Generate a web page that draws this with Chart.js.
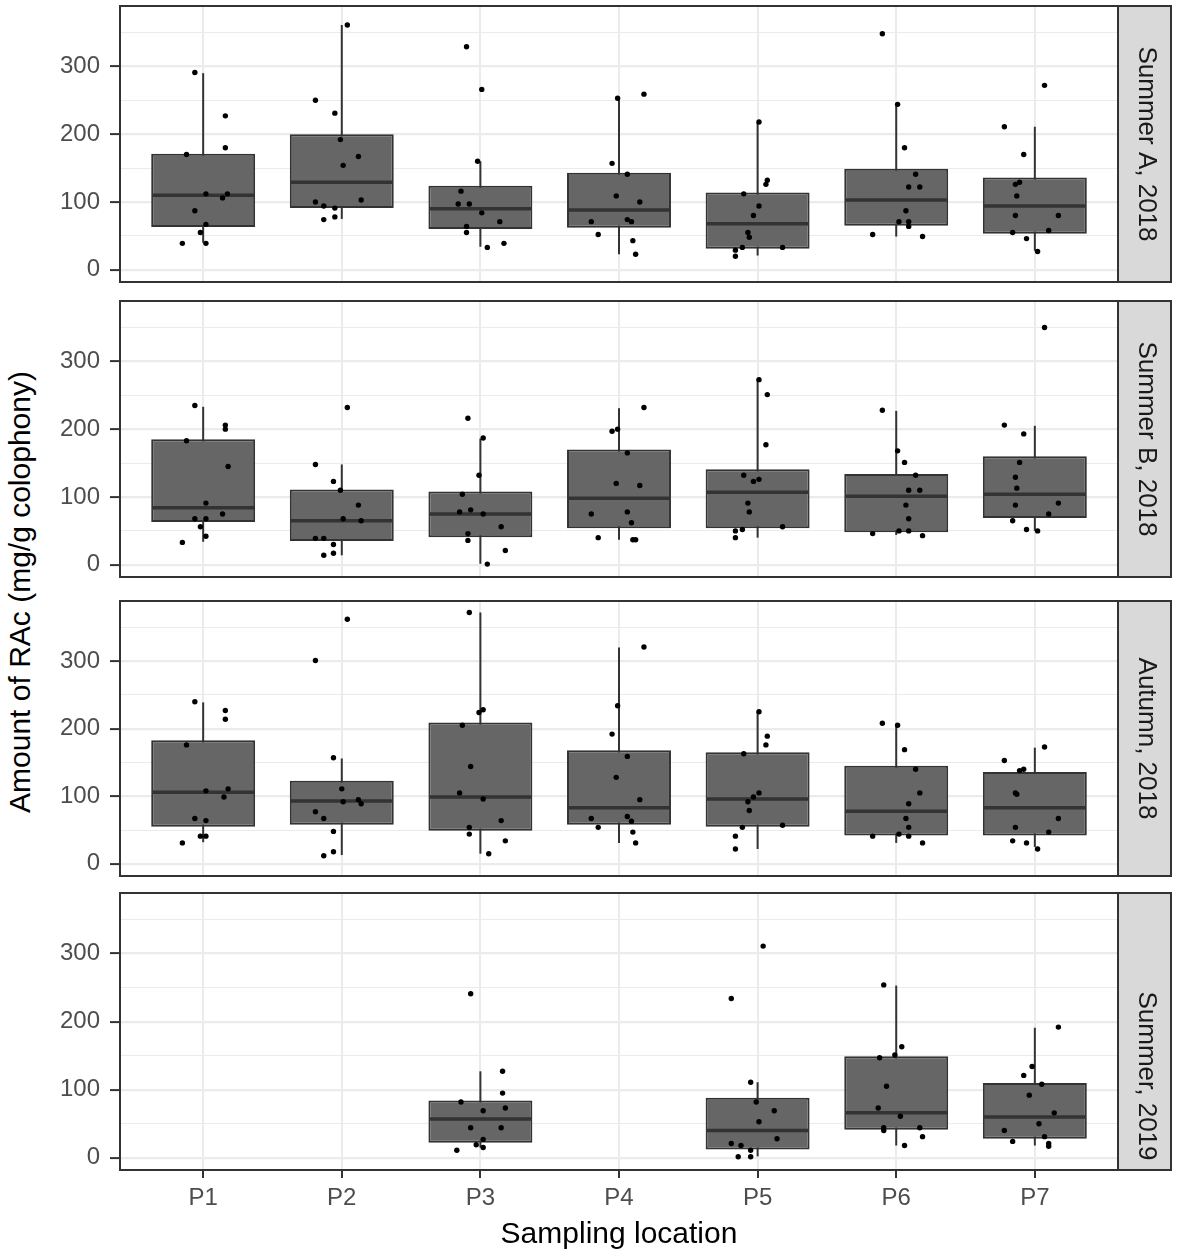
<!DOCTYPE html>
<html>
<head>
<meta charset="utf-8">
<script src="https://cdn.jsdelivr.net/npm/chart.js@4.4.0/dist/chart.umd.min.js"></script>
<style>
  body { margin: 0; background: #fff; }
  #wrap { position: relative; width: 1181px; height: 1260px; }
  canvas { position: absolute; left: 0; }
  #ytitle {
    position: absolute; left: 20px; top: 592px;
    transform: translate(-50%, -50%) rotate(-90deg);
    font: 30px "Liberation Sans", Arial, sans-serif;
    white-space: nowrap; color: #000;
  }
</style>
</head>
<body>
<div id="wrap">
  <div id="ytitle">Amount of RAc (mg/g colophony)</div>
  <canvas id="p0" width="1181" height="284" style="top:2px"></canvas>
  <canvas id="p1" width="1181" height="284" style="top:297px"></canvas>
  <canvas id="p2" width="1181" height="283" style="top:597px"></canvas>
  <canvas id="p3" width="1181" height="371" style="top:889px"></canvas>
</div>
<script>
const locations = ['P1', 'P2', 'P3', 'P4', 'P5', 'P6', 'P7'];
const seasons = ['Summer A, 2018', 'Summer B, 2018', 'Autumn, 2018', 'Summer, 2019'];
const yTicks = [0, 50, 100, 150, 200, 250, 300, 350];

// box stats per location: [lower whisker, q1, median, q3, upper whisker]
const boxSummerA = [
  [40, 63, 110, 171, 290],
  [75, 91, 129, 200, 361],
  [34, 60, 90, 124, 160],
  [23, 62, 88, 143, 253],
  [21, 31, 68, 114, 218],
  [49, 65, 103, 149, 244],
  [28, 53, 94, 136, 211]
];
const boxSummerB = [
  [34, 63, 84, 185, 233],
  [14, 35, 65, 111, 148],
  [1.5, 40.5, 75, 108, 186],
  [37, 54, 98, 170, 231],
  [40, 54, 107, 141, 273],
  [44, 48, 101, 134, 227],
  [50, 69, 104, 160, 205]
];
const boxAutumn = [
  [32, 55, 106, 183, 239],
  [13, 58, 93, 123, 156],
  [15, 49, 99, 209, 372],
  [31, 58, 83, 168, 320],
  [22, 55, 96, 165, 225],
  [31, 42, 78, 145, 205],
  [25, 42, 83, 136, 172]
];
const boxSummer19 = [
  null,
  null,
  [15, 22, 57, 84, 127],
  null,
  [2, 12, 40, 88, 111],
  [18, 41, 66, 149, 253],
  [18, 28, 60, 110, 191]
];

// jittered samples [x position, value]
const ptsSummerA = [
  [0.94, 291], [1.16, 227], [1.16, 180], [0.88, 170], [1.02, 112], [1.175, 112], [1.14, 106], [0.94, 87], [1.02, 67], [0.98, 55], [0.85, 39], [1.02, 39],
  [2.04, 361], [1.81, 250], [1.95, 231], [1.99, 192], [2.01, 154], [2.12, 167], [1.81, 100], [2.14, 103], [1.87, 94], [1.95, 91], [1.87, 74], [1.95, 78],
  [2.90, 329], [3.01, 266], [2.98, 160], [2.86, 116], [2.84, 97], [2.92, 97], [3.01, 84], [3.14, 71], [2.90, 64], [2.90, 55], [3.05, 33], [3.17, 39],
  [4.18, 259], [3.99, 253], [3.95, 157], [4.06, 141], [3.98, 109], [4.15, 100], [3.80, 71], [4.06, 74], [4.09, 71], [3.85, 52], [4.10, 43], [4.12, 23],
  [5.01, 218], [5.07, 132], [5.06, 126], [4.90, 112], [5.01, 94], [4.97, 80], [4.93, 55], [4.94, 48], [4.89, 33], [4.84, 29], [5.18, 33], [4.84, 20],
  [5.90, 348], [6.01, 244], [6.06, 180], [6.14, 141], [6.09, 122], [6.17, 122], [6.07, 87], [6.02, 71], [6.09, 71], [6.09, 64], [5.83, 52], [6.19, 49],
  [7.07, 272], [6.78, 211], [6.92, 170], [6.89, 129], [6.86, 126], [6.87, 109], [6.86, 80], [7.17, 80], [6.84, 55], [7.10, 58], [6.94, 46], [7.02, 27]
];
const ptsSummerB = [
  [0.94, 235], [0.88, 183], [1.16, 206], [1.16, 200], [1.18, 145], [1.02, 91], [1.14, 75], [0.94, 68], [1.02, 68], [0.98, 56], [1.02, 42], [0.85, 33],
  [2.04, 232], [1.81, 148], [1.94, 123], [1.99, 110], [2.12, 88], [2.01, 68], [2.14, 65], [1.81, 39], [1.87, 39], [1.94, 30], [1.94, 17], [1.87, 14],
  [2.91, 216], [3.02, 187], [2.99, 132], [2.87, 104], [2.85, 78], [2.93, 81], [3.02, 75], [3.15, 56], [2.91, 46], [2.91, 36], [3.18, 21], [3.05, 1],
  [4.18, 232], [3.99, 200], [3.95, 197], [4.06, 165], [3.98, 120], [4.15, 117], [3.80, 75], [4.06, 78], [4.09, 62], [3.85, 40], [4.10, 37], [4.12, 37],
  [5.01, 273], [5.07, 251], [5.06, 177], [4.90, 132], [4.97, 123], [5.01, 126], [4.93, 91], [4.94, 78], [5.18, 56], [4.89, 52], [4.84, 50], [4.84, 40],
  [5.90, 228], [6.01, 168], [6.06, 151], [6.14, 132], [6.09, 110], [6.17, 110], [6.07, 88], [6.09, 68], [6.02, 50], [6.09, 50], [5.83, 46], [6.19, 43],
  [7.07, 350], [6.78, 206], [6.92, 193], [6.89, 151], [6.86, 129], [6.87, 113], [6.86, 88], [7.17, 91], [7.10, 75], [6.84, 65], [6.94, 52], [7.02, 50]
];
const ptsAutumn = [
  [0.94, 240], [1.16, 227], [1.16, 214], [0.88, 176], [1.02, 108], [1.18, 111], [1.15, 99], [0.94, 67], [1.02, 64], [0.98, 41], [1.02, 41], [0.85, 31],
  [2.04, 362], [1.81, 301], [1.94, 157], [2.00, 111], [2.01, 92], [2.12, 95], [2.14, 89], [1.81, 77], [1.87, 67], [1.94, 48], [1.94, 18], [1.87, 12],
  [2.92, 372], [2.99, 224], [3.02, 228], [2.87, 205], [2.93, 144], [2.85, 105], [3.02, 96], [3.15, 64], [2.92, 54], [2.92, 44], [3.18, 34], [3.06, 15],
  [4.18, 321], [3.99, 234], [3.95, 192], [4.06, 159], [3.98, 128], [4.15, 95], [3.80, 67], [4.06, 70], [4.09, 63], [3.85, 54], [4.10, 47], [4.12, 31],
  [5.01, 225], [5.07, 189], [5.06, 176], [4.90, 163], [5.01, 105], [4.97, 99], [4.93, 92], [4.94, 79], [5.18, 57], [4.89, 54], [4.84, 41], [4.84, 22],
  [5.90, 208], [6.01, 205], [6.06, 169], [6.14, 140], [6.17, 105], [6.09, 89], [6.07, 67], [6.09, 54], [6.02, 44], [6.09, 41], [5.83, 41], [6.19, 31],
  [7.07, 173], [6.78, 153], [6.92, 140], [6.89, 138], [6.86, 105], [6.87, 103], [7.17, 67], [6.86, 54], [7.10, 47], [6.84, 34], [6.94, 31], [7.02, 22]
];
const ptsSummer19 = [
  [2.93, 241], [3.16, 127], [3.16, 95], [2.86, 82], [3.18, 73], [3.02, 69], [2.93, 44], [3.15, 44], [3.02, 27], [2.97, 19], [3.02, 15], [2.83, 11],
  [5.04, 311], [4.81, 234], [4.95, 111], [4.99, 82], [5.12, 69], [5.01, 53], [5.14, 28], [4.81, 21], [4.88, 18], [4.95, 11], [4.86, 1.5], [4.95, 1.5],
  [5.91, 254], [6.04, 163], [5.99, 151], [5.88, 147], [5.93, 105], [5.87, 73], [6.03, 61], [5.91, 44], [6.17, 44], [5.91, 40], [6.19, 31], [6.06, 18],
  [7.17, 192], [6.98, 134], [6.92, 121], [7.05, 108], [6.96, 92], [7.14, 66], [7.03, 50], [6.78, 40], [7.07, 31], [6.84, 24], [7.10, 21], [7.10, 17]
];

Chart.defaults.font.family = '"Liberation Sans", Arial, sans-serif';

// grey facet strip behind the title, dark frame round the panel
const panelFrame = {
  id: 'panelFrame',
  beforeDraw(chart) {
    const { ctx, chartArea: a } = chart;
    const right = chart.titleBlock ? chart.titleBlock.right : chart.width - 9;
    ctx.save();
    ctx.fillStyle = '#D9D9D9';
    ctx.fillRect(a.right, a.top, right - a.right, a.bottom - a.top);
    ctx.strokeStyle = '#333';
    ctx.lineWidth = 2;
    ctx.strokeRect(a.right, a.top, right - a.right - 1, a.bottom - a.top);
    ctx.restore();
  },
  afterDraw(chart) {
    const { ctx, chartArea: a } = chart;
    ctx.save();
    ctx.strokeStyle = '#333';
    ctx.lineWidth = 2;
    ctx.strokeRect(a.left, a.top, a.right - a.left, a.bottom - a.top);
    ctx.restore();
  }
};

const medRadius = (c) => {
  const s = c.chart.scales.x;
  return s.getPixelForValue(1.375) - s.getPixelForValue(1) - 1;
};

function makePanel(id, season, boxes, pts, bottom) {
  const idx = [];
  boxes.forEach((b, i) => { if (b) idx.push(i); });

  return new Chart(document.getElementById(id), {
    type: 'bar',
    data: {
      datasets: [
        {
          type: 'scatter',
          data: pts.map(p => ({ x: p[0], y: p[1] })),
          pointRadius: 2.7,
          pointBackgroundColor: '#000',
          pointBorderWidth: 0,
          order: 0
        },
        {
          type: 'scatter',
          data: idx.map(i => ({ x: i + 1, y: boxes[i][2] })),
          pointStyle: 'line',
          pointRadius: medRadius,
          pointBorderColor: '#333',
          pointBorderWidth: 3.5,
          order: 1
        },
        {
          data: idx.map(i => ({ x: i + 1, y: [boxes[i][1], boxes[i][3]] })),
          backgroundColor: '#666666',
          borderColor: '#333',
          borderWidth: 2,
          borderSkipped: false,
          grouped: false,
          barPercentage: 0.75,
          categoryPercentage: 1,
          order: 2
        },
        {
          data: idx.map(i => ({ x: i + 1, y: [boxes[i][0], boxes[i][4]] })),
          backgroundColor: '#333',
          borderWidth: 0,
          grouped: false,
          maxBarThickness: 2,
          order: 3
        }
      ]
    },
    options: {
      responsive: false,
      animation: false,
      layout: { padding: { top: 3, bottom: bottom ? 0 : 3, left: 0, right: 9 } },
      plugins: {
        legend: { display: false },
        tooltip: { enabled: false },
        title: {
          display: true,
          text: season,
          position: 'right',
          color: '#1A1A1A',
          font: { size: 26, weight: 'normal' },
          padding: { top: 10.4, bottom: 12.4 }
        }
      },
      scales: {
        x: {
          type: 'linear',
          min: 0.4,
          max: 7.6,
          offset: false,
          afterBuildTicks: s => { s.ticks = locations.map((l, i) => ({ value: i + 1 })); },
          afterFit: s => {
            s.height = bottom ? 90 : 0;
            s.paddingLeft = 0;
            s.paddingRight = 0;
          },
          grid: {
            offset: false,
            color: '#EBEBEB',
            lineWidth: 2,
            drawTicks: bottom,
            tickLength: 8,
            tickColor: '#333',
            tickWidth: 2
          },
          border: { display: false },
          ticks: {
            display: bottom,
            autoSkip: false,
            maxRotation: 0,
            padding: 5.6,
            color: '#4D4D4D',
            font: { size: 24 },
            callback: v => locations[Math.round(v) - 1]
          },
          title: {
            display: bottom,
            text: 'Sampling location',
            color: '#000',
            font: { size: 30 },
            padding: { top: 0, bottom: 7 }
          }
        },
        y: {
          min: -18,
          max: 389,
          afterBuildTicks: s => { s.ticks = yTicks.map(v => ({ value: v })); },
          afterFit: s => {
            s.width = 120;
            s.paddingTop = 0;
            s.paddingBottom = 0;
          },
          grid: {
            color: '#EBEBEB',
            lineWidth: c => (c.tick && c.tick.value % 100 === 0 ? 2.2 : 1.1),
            tickLength: 10,
            tickWidth: 2,
            tickColor: c => (c.tick && c.tick.value % 100 === 0 ? '#333' : 'rgba(0,0,0,0)')
          },
          border: { display: false },
          ticks: {
            autoSkip: false,
            padding: 10,
            color: '#4D4D4D',
            font: { size: 24 },
            callback: v => (v % 100 === 0 ? String(v) : '')
          }
        }
      }
    },
    plugins: [panelFrame]
  });
}

makePanel('p0', seasons[0], boxSummerA, ptsSummerA, false);
makePanel('p1', seasons[1], boxSummerB, ptsSummerB, false);
makePanel('p2', seasons[2], boxAutumn, ptsAutumn, false);
makePanel('p3', seasons[3], boxSummer19, ptsSummer19, true);
</script>
</body>
</html>
